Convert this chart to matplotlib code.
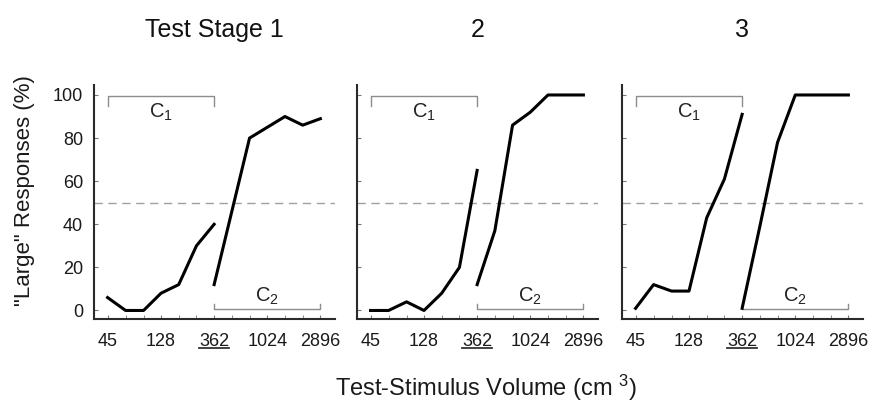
import matplotlib
matplotlib.use("Agg")
import matplotlib.pyplot as plt
from matplotlib.lines import Line2D

plt.rcParams['font.family'] = ['Liberation Sans', 'DejaVu Sans']
plt.rcParams['mathtext.fontset'] = 'custom'
plt.rcParams['mathtext.rm'] = 'Liberation Sans'
plt.rcParams['mathtext.it'] = 'Liberation Sans'

# test-stimulus volumes (cm3), half-octave steps
volumes = [45, 64, 91, 128, 181, 256, 362, 512, 724, 1024, 1448, 2048, 2896]
tick_vals = [45, 128, 362, 1024, 2896]
tick_labels = ['45', '128', '362', '1024', '2896']

# % "large" responses, C1 = 45..362, C2 = 362..2896
stage1_c1 = [6, 0, 0, 8, 12, 30, 40]
stage1_c2 = [12, 46, 80, 85, 90, 86, 89]
stage2_c1 = [0, 0, 4, 0, 8, 20, 65]
stage2_c2 = [12, 37, 86, 92, 100, 100, 100]
stage3_c1 = [1, 12, 9, 9, 43, 61, 91]
stage3_c2 = [1, 39, 78, 100, 100, 100, 100]

titles = ['Test Stage 1', '2', '3']
c1_data = [stage1_c1, stage2_c1, stage3_c1]
c2_data = [stage1_c2, stage2_c2, stage3_c2]

c1_x = volumes[:7]
c2_x = volumes[6:]

fig = plt.figure(figsize=(8.73, 4.07), dpi=100)
lefts = [94 / 873, 357 / 873, 622 / 873]
axes = []

for k in range(3):
    ax = fig.add_axes([lefts[k], 0.216, 0.276, 0.575])
    axes.append(ax)
    ax.set_xscale('log', base=2)

    ax.axhline(50, color='#a0a0a0', lw=1, ls=(0, (6, 4)))

    # brackets for the two ranges
    ax.plot([c1_x[0], c1_x[0], c1_x[-1], c1_x[-1]], [95, 99.4, 99.4, 95], color='#8c8c8c', lw=1)
    ax.plot([c2_x[0], c2_x[0], c2_x[-1], c2_x[-1]], [3, 0.8, 0.8, 3], color='#8c8c8c', lw=1)
    ax.text(128, 92, 'C$_1$', ha='center', va='center', fontsize=14.5, color='#222222')
    ax.text(1024, 6.5, 'C$_2$', ha='center', va='center', fontsize=14.5, color='#222222')

    ax.plot(c1_x, c1_data[k], color='black', lw=2.2)
    ax.plot(c2_x, c2_data[k], color='black', lw=2.2)

    ax.set_xlim(34.5, 3850)
    ax.set_ylim(-4, 104.6)
    ax.set_xticks(volumes, minor=True)
    ax.set_xticks(tick_vals)
    ax.set_xticklabels(tick_labels)
    ax.xaxis.set_minor_formatter(plt.NullFormatter())
    ax.tick_params(axis='x', which='both', direction='in', length=3, color='#777777',
                   labelsize=13, labelcolor='#1a1a1a', pad=10)
    ax.tick_params(axis='y', direction='in', length=3, color='#777777',
                   labelsize=13, labelcolor='#1a1a1a', pad=8)
    ax.set_yticks([0, 20, 40, 60, 80, 100])
    if k > 0:
        ax.set_yticklabels([])
    for s in ['top', 'right']:
        ax.spines[s].set_visible(False)
    for s in ['left', 'bottom']:
        ax.spines[s].set_color('#2a2a2a')
        ax.spines[s].set_linewidth(1.5)

    fig.text(lefts[k] + 0.138, 1 - 30 / 407, titles[k], ha='center', va='center',
             fontsize=18, color='#111111')

fig.text(25 / 873, 1 - 191 / 407, '"Large" Responses (%)', rotation=90, ha='center',
         va='center', fontsize=16, color='#1a1a1a')
fig.text(486 / 873, 1 - 388 / 407, 'Test-Stimulus Volume (cm $^{3}$)', ha='center',
         va='center', fontsize=17, color='#1a1a1a')

# underline the 362 label (boundary between C1 and C2)
fig.canvas.draw()
for ax in axes:
    for lab in ax.get_xticklabels():
        if lab.get_text() == '362':
            bb = lab.get_window_extent().transformed(fig.transFigure.inverted())
            y = bb.y0 + 0.005
            fig.add_artist(Line2D([bb.x0, bb.x1], [y, y], transform=fig.transFigure,
                                  color='#333333', lw=1.3))

fig.savefig('out.png', dpi=100)
